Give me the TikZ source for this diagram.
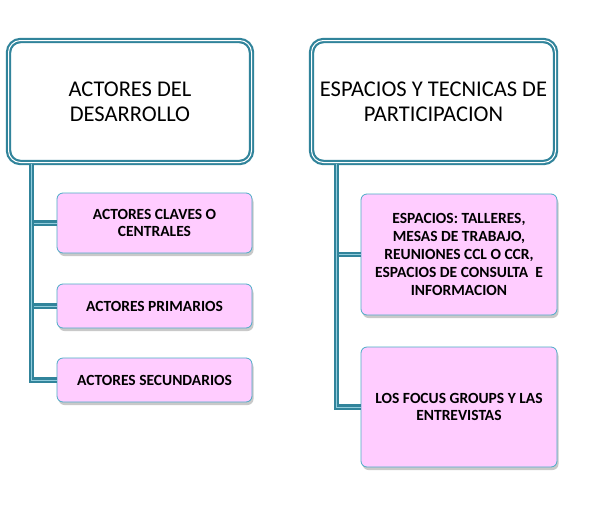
\documentclass[tikz,border=0pt]{standalone}
\usepackage{fontspec}
\setmainfont{Carlito}
\usepackage{xcolor}
\usepackage{tikz}
\usetikzlibrary{shadows}
\definecolor{teal line}{HTML}{31849B}
\definecolor{light teal}{HTML}{4BACC6}
\definecolor{pink fill}{HTML}{FFCCFF}
\tikzset{
    head node/.style={shape=rectangle,rounded corners=12pt,draw=teal line,line width=2.2pt,
        double=white,double distance=1pt,fill=white,align=center,
        font=\fontsize{22.5}{25}\selectfont,inner sep=0pt},
    pink node/.style={shape=rectangle,rounded corners=6pt,draw=light teal,line width=0.8pt,
        fill=pink fill,align=center,font=\bfseries\fontsize{15.5}{17.8}\selectfont,inner sep=0pt,
        drop shadow={shadow xshift=1.5pt,shadow yshift=-3pt,opacity=0.35,fill=black!60}},
    link/.style={draw=teal line,line width=2.2pt,double=light teal!60,double distance=0.8pt}
}
\begin{document}
\begin{tikzpicture}[x=1pt,y=-1pt]
    \useasboundingbox[fill=white](0,0) rectangle (592,520);
    % left column
    \node(actores)[head node,minimum width=243pt,minimum height=122pt] at (130,101.5) {ACTORES DEL\\DESARROLLO};
    \node(claves)[pink node,minimum width=195pt,minimum height=60pt] at (154.5,223) {ACTORES CLAVES O\\CENTRALES};
    \node(primarios)[pink node,minimum width=195pt,minimum height=44pt] at (154.5,306) {ACTORES PRIMARIOS};
    \node(secundarios)[pink node,minimum width=195pt,minimum height=44pt] at (154.5,380) {ACTORES SECUNDARIOS};
    % right column
    \node(espacios)[head node,minimum width=244pt,minimum height=122pt] at (433.5,101.5) {ESPACIOS Y TECNICAS DE\\PARTICIPACION};
    \node(talleres)[pink node,minimum width=196pt,minimum height=121pt] at (459,254.5) {ESPACIOS: TALLERES,\\MESAS DE TRABAJO,\\REUNIONES CCL O CCR,\\ESPACIOS DE CONSULTA~~E\\INFORMACION};
    \node(focus)[pink node,minimum width=196pt,minimum height=120pt] at (459,407) {LOS FOCUS GROUPS Y LAS\\ENTREVISTAS};

    \draw[link]([xshift=24pt]actores.south west) |- (claves.west);
    \draw[link]([xshift=24pt]actores.south west) |- (primarios.west);
    \draw[link]([xshift=24pt]actores.south west) |- (secundarios.west);
    \draw[link]([xshift=26pt]espacios.south west) |- (talleres.west);
    \draw[link]([xshift=26pt]espacios.south west) |- (focus.west);
\end{tikzpicture}
\end{document}
